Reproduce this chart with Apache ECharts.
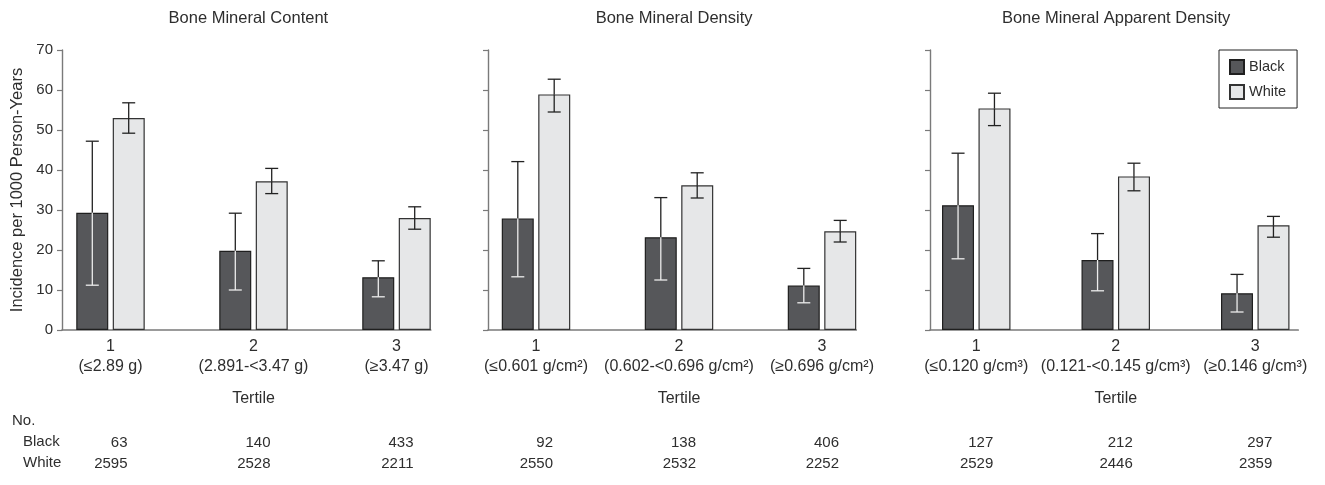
<!DOCTYPE html>
<html><head><meta charset="utf-8">
<script src="https://cdn.jsdelivr.net/npm/echarts@6/dist/echarts.min.js"></script>
<style>html,body{margin:0;padding:0;background:#fff}#c{width:1325px;height:485px}</style>
</head><body><div id="c"></div>
<script>
const categories = ['1', '2', '3'];
const panelTitles = ['Bone Mineral Content', 'Bone Mineral Density', 'Bone Mineral Apparent Density'];
const tertileRanges = [
  ['(≤2.89 g)', '(2.891-<3.47 g)', '(≥3.47 g)'],
  ['(≤0.601 g/cm²)', '(0.602-<0.696 g/cm²)', '(≥0.696 g/cm²)'],
  ['(≤0.120 g/cm³)', '(0.121-<0.145 g/cm³)', '(≥0.146 g/cm³)']
];
const blackVal  = [[29.3, 19.8, 13.2], [27.9, 23.2, 11.1], [31.2, 17.5, 9.2]];
const blackLow  = [[11.2, 10.0, 8.3],  [13.3, 12.5, 6.8],  [17.8, 9.8, 4.5]];
const blackHigh = [[47.2, 29.2, 17.3], [42.1, 33.1, 15.4], [44.2, 24.1, 13.9]];
const whiteVal  = [[53.0, 37.2, 28.0], [58.9, 36.2, 24.7], [55.4, 38.4, 26.2]];
const whiteLow  = [[49.2, 34.1, 25.2], [54.5, 33.0, 22.0], [51.1, 34.8, 23.2]];
const whiteHigh = [[56.8, 40.4, 30.8], [62.7, 39.3, 27.4], [59.2, 41.7, 28.4]];
const blackN = [[63, 140, 433], [92, 138, 406], [127, 212, 297]];
const whiteN = [[2595, 2528, 2211], [2550, 2532, 2252], [2529, 2446, 2359]];
const yMin = 0, yMax = 70, yInterval = 10;
const yAxisName = 'Incidence per 1000 Person-Years';
const xAxisName = 'Tertile';
const rowLabels = ['No.', 'Black', 'White'];

const FONT = '"Liberation Sans", Arial, Helvetica, sans-serif';
const TXT = '#2e2e2e';
const AXIS = '#7a7a7a';
// layout (pixels)
const panels = [
  { axisLeft: 62,  dataLeft: 39,    band: 143 },
  { axisLeft: 488, dataLeft: 464.5, band: 143 },
  { axisLeft: 930, dataLeft: 906.5, band: 143 }
];
const TOP = 50, H = 280;
const BAR_W = 32, OFF = 18.2, CAP = 6.5;

const grids = [], xAxes = [], yAxes = [], series = [], titles = [];

function errRenderer(offset, upColor, downColor) {
  return function (params, api) {
    const i = api.value(0);
    const x = api.coord([i, 0])[0] + offset;
    const yv = api.coord([i, api.value(1)])[1];
    const yl = api.coord([i, api.value(2)])[1];
    const yh = api.coord([i, api.value(3)])[1];
    const up = { stroke: upColor, lineWidth: 1.3 };
    const dn = { stroke: downColor, lineWidth: 1.3 };
    return { type: 'group', children: [
      { type: 'line', shape: { x1: x, y1: yv, x2: x, y2: yh }, style: up },
      { type: 'line', shape: { x1: x - CAP, y1: yh, x2: x + CAP, y2: yh }, style: up },
      { type: 'line', shape: { x1: x, y1: yv, x2: x, y2: yl }, style: dn },
      { type: 'line', shape: { x1: x - CAP, y1: yl, x2: x + CAP, y2: yl }, style: dn }
    ]};
  };
}

panels.forEach((p, k) => {
  const axisRight = p.dataLeft + p.band * 2.5 + OFF + BAR_W / 2;
  const axisW = axisRight - p.axisLeft;
  const dataW = p.band * 3;
  // axis grid
  grids.push({ left: p.axisLeft, top: TOP, width: axisW, height: H });
  xAxes.push({ gridIndex: 2 * k, type: 'value', min: 0, max: 1,
    axisLine: { show: true, onZero: false, lineStyle: { color: AXIS, width: 1.7 } },
    axisTick: { show: false }, axisLabel: { show: false }, splitLine: { show: false } });
  yAxes.push({ gridIndex: 2 * k, type: 'value', min: yMin, max: yMax, interval: yInterval,
    axisLine: { show: true, lineStyle: { color: AXIS, width: 1.4 } },
    axisTick: { show: true, length: 5, lineStyle: { color: AXIS, width: 1.2 } },
    axisLabel: { show: k === 0, fontSize: 15, color: TXT, fontFamily: FONT, margin: 9 },
    splitLine: { show: false },
    name: k === 0 ? yAxisName : '', nameLocation: 'middle', nameGap: 36,
    nameTextStyle: { fontSize: 16.5, color: TXT, fontFamily: FONT } });
  // data grid
  grids.push({ left: p.dataLeft, top: TOP, width: dataW, height: H });
  xAxes.push({ gridIndex: 2 * k + 1, type: 'category', data: categories,
    axisLine: { show: false }, axisTick: { show: false },
    axisLabel: { margin: 7, fontSize: 16, color: TXT, fontFamily: FONT, lineHeight: 20, interval: 0,
      formatter: (v, i) => v + '\n' + tertileRanges[k][i] },
    name: xAxisName, nameLocation: 'middle', nameGap: 61,
    nameTextStyle: { fontSize: 16, color: TXT, fontFamily: FONT } });
  yAxes.push({ gridIndex: 2 * k + 1, type: 'value', min: yMin, max: yMax, show: false });
  // counts axis
  xAxes.push({ gridIndex: 2 * k + 1, type: 'category', data: categories, position: 'bottom',
    axisLine: { show: false }, axisTick: { show: false },
    axisLabel: { margin: 102, interval: 0, fontFamily: FONT,
      formatter: (v, i) => '{n|' + blackN[k][i] + '}\n{n|' + whiteN[k][i] + '}',
      rich: { n: { fontSize: 15, color: TXT, fontFamily: FONT, width: 34, align: 'right', lineHeight: 21 } } } });

  const xi = xAxes.length - 2; // data category axis index
  const yi = 2 * k + 1;
  series.push({ name: 'Black', type: 'bar', xAxisIndex: xi, yAxisIndex: yi, barWidth: BAR_W, barGap: '14%',
    data: blackVal[k], itemStyle: { color: '#56575a', borderColor: '#1f1f1f', borderWidth: 1.2 } });
  series.push({ name: 'White', type: 'bar', xAxisIndex: xi, yAxisIndex: yi, barWidth: BAR_W, barGap: '14%',
    data: whiteVal[k], itemStyle: { color: '#e6e7e8', borderColor: '#333', borderWidth: 1.2 } });
  series.push({ name: 'errBlack' + k, type: 'custom', xAxisIndex: xi, yAxisIndex: yi, z: 5,
    renderItem: errRenderer(-OFF, '#222', '#ececec'),
    encode: { x: 0, y: [1, 2, 3] },
    data: blackVal[k].map((v, i) => [i, v, blackLow[k][i], blackHigh[k][i]]) });
  series.push({ name: 'errWhite' + k, type: 'custom', xAxisIndex: xi, yAxisIndex: yi, z: 5,
    renderItem: errRenderer(OFF, '#222', '#222'),
    encode: { x: 0, y: [1, 2, 3] },
    data: whiteVal[k].map((v, i) => [i, v, whiteLow[k][i], whiteHigh[k][i]]) });

  titles.push({ text: panelTitles[k], left: p.axisLeft + axisW / 2 + 2, top: 10, padding: 0, textAlign: 'center',
    textStyle: { fontSize: 16.5, fontWeight: 'normal', color: TXT, fontFamily: FONT } });
});

const chart = echarts.init(document.getElementById('c'));
chart.setOption({
  animation: false,
  backgroundColor: '#fff',
  title: titles,
  legend: { data: ['Black', 'White'], orient: 'vertical', left: 1219, top: 50,
    padding: [9, 11, 8, 10], itemGap: 9, itemWidth: 14, itemHeight: 14, icon: 'rect',
    borderColor: '#222', borderWidth: 1,
    textStyle: { fontSize: 14.5, color: TXT, fontFamily: FONT } },
  grid: grids, xAxis: xAxes, yAxis: yAxes, series: series,
  graphic: [
    { type: 'text', left: 12, top: 413, style: { text: rowLabels[0], fontSize: 15, fill: TXT, fontFamily: FONT } },
    { type: 'text', left: 23, top: 434, style: { text: rowLabels[1], fontSize: 15, fill: TXT, fontFamily: FONT } },
    { type: 'text', left: 23, top: 455, style: { text: rowLabels[2], fontSize: 15, fill: TXT, fontFamily: FONT } }
  ]
});
</script></body></html>
